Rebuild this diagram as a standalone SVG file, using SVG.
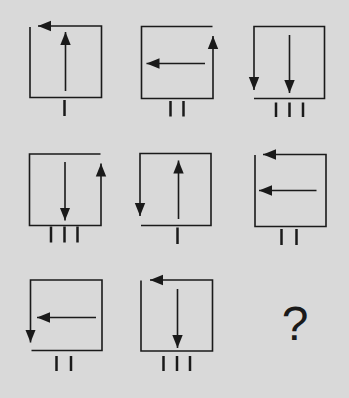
<svg xmlns="http://www.w3.org/2000/svg" width="349" height="398" viewBox="0 0 349 398">
<style>
.ln{fill:none;stroke:#1a1a1a;stroke-width:1.6;stroke-linejoin:miter;stroke-linecap:butt}
.ar{fill:none;stroke:#1a1a1a;stroke-width:1.6;marker-end:url(#ah)}
.tk{stroke:#1a1a1a;stroke-width:2.5}
.q{font-family:"Liberation Sans",Arial,sans-serif;font-size:48px;fill:#1a1a1a;text-anchor:middle}
</style>
<defs>
<marker id="ah" markerUnits="userSpaceOnUse" markerWidth="14" markerHeight="12" viewBox="0 0 14 12" refX="13" refY="6" orient="auto">
<path d="M0,0.8 L13,6 L0,11.2 Z" fill="#1a1a1a"/>
</marker>
</defs>
<rect x="0" y="0" width="349" height="398" fill="#d9d9d9"/>
<g id="cell1">
<path class="ln" d="M30,27 L30,97.5 L101.5,97.5 L101.5,26 L38,26" marker-end="url(#ah)"/>
<line class="ar" x1="65.5" y1="91" x2="65.5" y2="32"/>
<line class="tk" x1="64.5" y1="100" x2="64.5" y2="116"/>
</g>
<g id="cell2">
<path class="ln" d="M212.5,26.5 L141.5,26.5 L141.5,98.5 L213,98.5 L213,36" marker-end="url(#ah)"/>
<line class="ar" x1="205" y1="63.5" x2="146.5" y2="63.5"/>
<line class="tk" x1="170.5" y1="101" x2="170.5" y2="116.5"/>
<line class="tk" x1="183.5" y1="101" x2="183.5" y2="116.5"/>
</g>
<g id="cell3">
<path class="ln" d="M254,98.5 L324.5,98.5 L324.5,26.5 L254,26.5 L254,90" marker-end="url(#ah)"/>
<line class="ar" x1="289.5" y1="35" x2="289.5" y2="93"/>
<line class="tk" x1="276" y1="102.5" x2="276" y2="117"/>
<line class="tk" x1="289.5" y1="102.5" x2="289.5" y2="117"/>
<line class="tk" x1="303" y1="102.5" x2="303" y2="117"/>
</g>
<g id="cell4">
<path class="ln" d="M100.5,154 L29.5,154 L29.5,225.5 L101,225.5 L101,163.5" marker-end="url(#ah)"/>
<line class="ar" x1="65" y1="162" x2="65" y2="220.5"/>
<line class="tk" x1="51" y1="226.5" x2="51" y2="242.5"/>
<line class="tk" x1="64.5" y1="226.5" x2="64.5" y2="242.5"/>
<line class="tk" x1="77.5" y1="226.5" x2="77.5" y2="242.5"/>
</g>
<g id="cell5">
<path class="ln" d="M141,225.5 L211,225.5 L211,153.5 L140,153.5 L140,216" marker-end="url(#ah)"/>
<line class="ar" x1="178.5" y1="219" x2="178.5" y2="160.5"/>
<line class="tk" x1="177.5" y1="227.5" x2="177.5" y2="244"/>
</g>
<g id="cell6">
<path class="ln" d="M255,155 L255,226.5 L326,226.5 L326,154.5 L263,154.5" marker-end="url(#ah)"/>
<line class="ar" x1="316.5" y1="190.5" x2="259" y2="190.5"/>
<line class="tk" x1="281.5" y1="229" x2="281.5" y2="245"/>
<line class="tk" x1="296.5" y1="229" x2="296.5" y2="245"/>
</g>
<g id="cell7">
<path class="ln" d="M31.5,350.5 L102,350.5 L102,280 L30.5,280 L30.5,342.5" marker-end="url(#ah)"/>
<line class="ar" x1="96" y1="317.5" x2="37" y2="317.5"/>
<line class="tk" x1="56.5" y1="356" x2="56.5" y2="371"/>
<line class="tk" x1="71" y1="356" x2="71" y2="371"/>
</g>
<g id="cell8">
<path class="ln" d="M141,280.5 L141,351 L212.5,351 L212.5,280 L150,280" marker-end="url(#ah)"/>
<line class="ar" x1="177.5" y1="289" x2="177.5" y2="348"/>
<line class="tk" x1="163.5" y1="356" x2="163.5" y2="371"/>
<line class="tk" x1="177" y1="356" x2="177" y2="371"/>
<line class="tk" x1="190" y1="356" x2="190" y2="371"/>
</g>
<g id="cell9">
<text class="q" x="295" y="340">?</text>
</g>
</svg>
